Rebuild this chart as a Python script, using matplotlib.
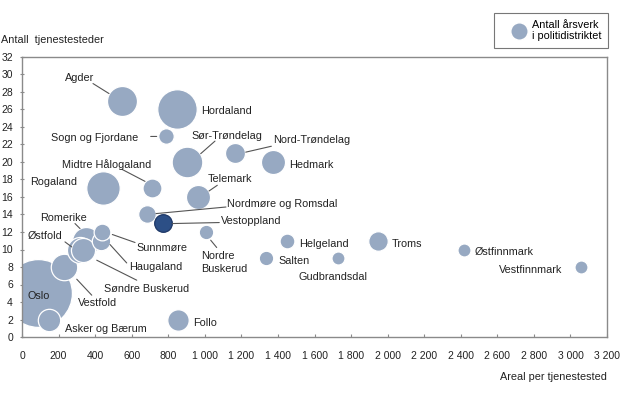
import matplotlib
matplotlib.use("Agg")
import matplotlib.pyplot as plt
from matplotlib.lines import Line2D
from matplotlib.transforms import offset_copy
import numpy as np

# data
districts = ["Oslo", "Asker og Bærum", "Follo", "Vestfold", "Romerike", "Østfold",
             "Søndre Buskerud", "Haugaland", "Sunnmøre", "Rogaland", "Agder",
             "Midtre Hålogaland", "Nordmøre og Romsdal", "Vestoppland",
             "Sogn og Fjordane", "Hordaland", "Sør-Trøndelag", "Telemark",
             "Nordre Buskerud", "Nord-Trøndelag", "Salten", "Hedmark", "Helgeland",
             "Gudbrandsdal", "Troms", "Østfinnmark", "Vestfinnmark"]
areal = [90, 145, 855, 230, 350, 315, 335, 430, 440, 445, 547, 710, 682, 770,
         786, 846, 903, 960, 1007, 1167, 1335, 1373, 1451, 1727, 1946, 2420, 3056]
tjenestesteder = [5, 2, 2, 8, 11, 10, 10, 11, 12, 17, 27, 17, 14, 13, 23, 26, 20,
                  16, 12, 21, 9, 20, 11, 9, 11, 10, 8]
arsverk = [2300, 250, 230, 350, 390, 340, 290, 170, 140, 560, 450, 180, 155, 155,
           120, 780, 470, 290, 105, 200, 105, 290, 110, 85, 190, 85, 85]

xticks = list(range(0, 3201, 200))
yticks = list(range(0, 33, 2))

# label placement: (dx, dy, ha) in pixels from bubble centre, optional leader line
labels = {
  "Oslo": (0, -3, "center", None),
  "Asker og Bærum": (16, -9, "left", None),
  "Follo": (15, -3, "left", None),
  "Vestfold": (14, -36, "left", ((12.7, -12.2), (27.7, -28.2))),
  "Søndre Buskerud": (21, -40, "left", ((13.5, -10.7), (53.5, -30.7))),
  "Østfold": (-17, 13, "right", ((-14.6, 7.6), (-7.9, 2.6))),
  "Romerike": (-22, 23, "center", ((-11, 17.2), (-6, 12.2))),
  "Haugaland": (29, -26, "left", ((9.4, -3.8), (26.1, -22.2))),
  "Sunnmøre": (34, -16.5, "left", ((9.9, -2.5), (32.6, -10.5))),
  "Rogaland": (-26, 6, "right", None),
  "Agder": (-42, 22.5, "center", ((-29, 17.2), (-13, 7.2))),
  "Midtre Hålogaland": (-45, 24, "center", ((-29.8, 18.9), (-6.8, 6.9))),
  "Nordmøre og Romsdal": (80, 10, "left", ((9.3, 0.9), (79.3, 7.5))),
  "Vestoppland": (58, 2, "left", ((9.5, -0.3), (56.5, 0.7))),
  "Sogn og Fjordane": (-27, -2.7, "right", ((-15, -0.7), (-9, -0.7))),
  "Hordaland": (24, -2, "left", None),
  "Sør-Trøndelag": (40, 25.6, "center", ((27.9, 20.9), (13.6, 8.3))),
  "Telemark": (32.5, 17.7, "center", ((19.8, 11.7), (11.5, 6))),
  "Nordre Buskerud": (-5, -30.5, "left", ((4.6, -8.2), (10.6, -15.5))),
  "Nord-Trøndelag": (38, 12.8, "left", ((10.4, 1.1), (36, 7))),
  "Salten": (12, -3, "left", None),
  "Hedmark": (16, -3, "left", None),
  "Helgeland": (12, -3, "left", None),
  "Gudbrandsdal": (-5, -19, "center", None),
  "Troms": (14, -3, "left", None),
  "Østfinnmark": (10.6, -3, "left", None),
  "Vestfinnmark": (-18, -3, "right", None),
}

plt.rcParams['font.family'] = ['Liberation Sans', 'DejaVu Sans']
fs = 7.8
tfs = 7.5
bubble = '#97a9c2'
grey = '#8a8a8a'

fig = plt.figure(figsize=(6.2, 3.98), dpi=100)
ax = fig.add_axes([22/620, 1-337/398, 585/620, 280/398])
ax.set_xlim(0, 3200)
ax.set_ylim(0, 32)

# bubble area proportional to årsverk; pixel radius = sqrt(arsverk/2)
sizes = [(2*np.sqrt(a/2.0)*0.72)**2 for a in arsverk]
order = np.argsort(arsverk)[::-1]
for i in order:
  face = '#2c4f86' if districts[i] == "Vestoppland" else bubble
  edge = '#1d3766' if districts[i] == "Vestoppland" else 'white'
  ax.scatter(areal[i], tjenestesteder[i], s=sizes[i], color=face,
             edgecolors=edge, linewidths=0.9, zorder=2, clip_on=True)

for i, name in enumerate(districts):
  dx, dy, ha, line = labels[name]
  txt = "Nordre\nBuskerud" if name == "Nordre Buskerud" else name
  ax.annotate(txt, (areal[i], tjenestesteder[i]), xytext=(dx, dy),
              textcoords='offset pixels', ha=ha, va='center', fontsize=fs,
              color='#222222', zorder=4, linespacing=1.45)
  if line is not None:
    (x0, y0), (x1, y1) = line
    t0 = offset_copy(ax.transData, fig=fig, x=x0, y=y0, units='dots')
    t1 = offset_copy(ax.transData, fig=fig, x=x1, y=y1, units='dots')
    ax.annotate('', xy=(areal[i], tjenestesteder[i]), xycoords=t0,
                xytext=(areal[i], tjenestesteder[i]), textcoords=t1,
                arrowprops=dict(arrowstyle='-', color='#555555', lw=0.8,
                                shrinkA=0, shrinkB=0), zorder=3)

ax.set_xticks(xticks)
ax.set_xticklabels([f"{v:,}".replace(",", " ") for v in xticks])
ax.set_yticks(yticks)
ax.tick_params(axis='x', direction='in', length=2.5, pad=10, labelsize=tfs,
               color=grey, labelcolor='#222222')
ax.tick_params(axis='y', direction='inout', length=3, pad=5, labelsize=tfs,
               color=grey, labelcolor='#222222')
for s in ax.spines.values():
  s.set_color(grey)
  s.set_linewidth(1.0)

fig.text(0.002, 1-40/398, "Antall  tjenestesteder", fontsize=fs, va='center',
         ha='left', color='#222222')
fig.text(607/620, 1-377/398, "Areal per tjenestested", fontsize=fs, va='center',
         ha='right', color='#222222')

handle = Line2D([], [], marker='o', linestyle='none', markersize=12.5,
                markerfacecolor=bubble, markeredgecolor='white')
leg = fig.legend([handle], ["Antall årsverk\ni politidistriktet"],
                 loc='upper right', bbox_to_anchor=(608/620, 1-13/398),
                 borderaxespad=0, fancybox=False, fontsize=fs, frameon=True,
                 handletextpad=-0.5, borderpad=0.6, handlelength=3.4)
leg.get_frame().set_edgecolor('#555555')
leg.get_frame().set_linewidth(0.8)

fig.savefig('out.png', dpi=100)
